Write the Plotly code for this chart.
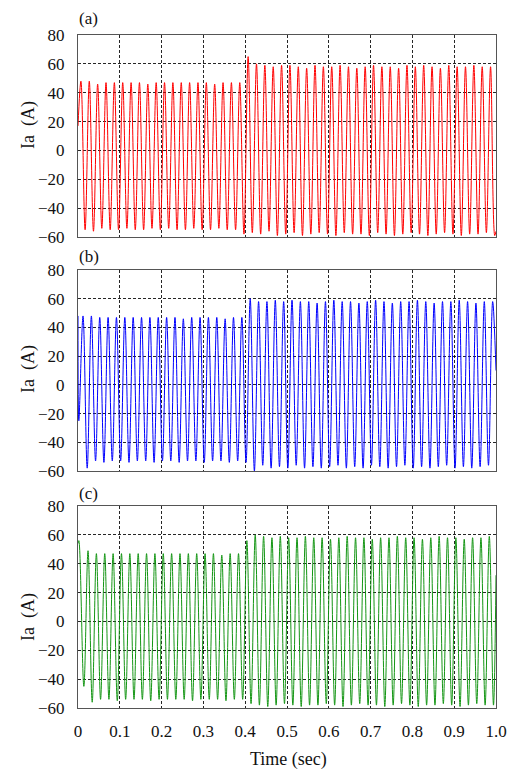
import numpy as np
import plotly.graph_objects as go

# ---------------- data ----------------
PERIOD = 0.02  # 50 Hz supply current

# Panel (a): peaks at 0.007 + 0.02k, troughs at 0.017 + 0.02k
start_a = (0.0, 17)
peaks_a = [48, 48, 46, 47, 47, 47, 47, 47, 46, 47, 47, 47, 47, 47, 47, 47, 46, 47, 47, 47,
           65, 60, 59, 58, 59, 59, 58, 57, 59, 58, 58, 59, 58, 57, 58, 59, 58, 58, 57, 59,
           58, 59, 58, 57, 59, 58, 58, 59, 58, 58]
troughs_a = [-55, -56, -54, -55, -55, -54, -55, -55, -54, -55, -54, -55, -55, -54, -55, -55, -54, -55, -55, -58,
             -57, -58, -56, -59, -58, -57, -59, -58, -57, -58, -59, -57, -58, -58, -59, -57, -58, -59, -58, -57,
             -58, -59, -58, -57, -58, -59, -58, -58, -57, -59]
end_a = (1.0, -56)

# Panel (b): troughs at 0.002 + 0.02k, peaks at 0.012 + 0.02k
start_b = (0.0, 48)
peaks_b = [48, 48, 47, 47, 47, 47, 47, 47, 47, 47, 47, 47, 46, 47, 47, 47, 47, 46, 47, 47,
           60, 58, 58, 59, 58, 59, 58, 58, 57, 58, 59, 58, 58, 57, 58, 59, 58, 57, 58, 58,
           59, 58, 57, 58, 58, 59, 58, 57, 58, 58]
troughs_b = [-25, -58, -53, -54, -53, -53, -54, -53, -53, -54, -53, -53, -54, -53, -53, -54, -53, -53, -54, -53,
             -54, -60, -56, -58, -57, -58, -56, -58, -57, -58, -57, -56, -58, -57, -58, -56, -57, -58, -57, -56,
             -58, -57, -58, -57, -56, -58, -57, -58, -57, -56]
end_b = (1.0, 10)

# Panel (c): first peak at 0.002, then peaks at 0.004 + 0.02k; troughs at 0.014 + 0.02k
start_c = (0.0, 54)
peaks_c = [56, 49, 47, 47, 47, 47, 47, 47, 47, 47, 47, 47, 47, 47, 47, 47, 47, 46, 47, 47,
           56, 60, 59, 58, 59, 58, 58, 59, 58, 58, 57, 58, 59, 58, 58, 57, 58, 58, 59, 58,
           58, 57, 58, 59, 58, 58, 57, 58, 58, 59]
troughs_c = [-45, -56, -54, -54, -55, -54, -54, -54, -55, -54, -54, -54, -54, -55, -54, -54, -54, -55, -54, -54,
             -57, -58, -59, -58, -57, -58, -59, -58, -58, -57, -58, -59, -58, -57, -58, -58, -59, -58, -57, -58,
             -59, -58, -58, -57, -58, -59, -58, -57, -58, -58]
end_c = (1.0, 32)

x_tickvals = [0, 0.1, 0.2, 0.3, 0.4, 0.5, 0.6, 0.7, 0.8, 0.9, 1.0]
x_ticktext = ["0", "0.1", "0.2", "0.3", "0.4", "0.5", "0.6", "0.7", "0.8", "0.9", "1.0"]
y_tickvals = [-60, -40, -20, 0, 20, 40, 60, 80]
panel_labels = ["(a)", "(b)", "(c)"]
y_title = "Ia\u00a0 (A)"
x_title = "Time (sec)"

# ---------------- build sample sequences ----------------
def sequence(start, peaks, peak_t, troughs, trough_t, end):
    t = np.concatenate([[start[0]], peak_t, trough_t, [end[0]]])
    v = np.concatenate([[start[1]], peaks, troughs, [end[1]]])
    order = np.argsort(t, kind="stable")
    t, v = t[order], v[order]
    keep = t <= 1.0
    return t[keep], v[keep]

k = np.arange(50)
ta, va = sequence(start_a, peaks_a, 0.007 + PERIOD * k, troughs_a, 0.017 + PERIOD * k, end_a)
pt_c = 0.004 + PERIOD * k
pt_c[0] = 0.002
tb, vb = sequence(start_b, peaks_b, 0.012 + PERIOD * k, troughs_b, 0.002 + PERIOD * k, end_b)
tc, vc = sequence(start_c, peaks_c, pt_c, troughs_c, 0.014 + PERIOD * k, end_c)

W, H = 510, 770
xdom = [78 / W, 496 / W]
panels = [  # (top px, bottom px)
    (35, 237),
    (270, 471),
    (506, 708),
]
colors = ["rgb(255,0,0)", "rgb(0,0,255)", "rgb(20,150,20)"]
series = [(ta, va), (tb, vb), (tc, vc)]

fig = go.Figure()
font_family = "Liberation Serif, Times New Roman, serif"

for i, ((t, v), col, (top, bot)) in enumerate(zip(series, colors, panels)):
    n = "" if i == 0 else str(i + 1)
    fig.add_trace(go.Scatter(x=t, y=v, mode="lines",
                             line=dict(color=col, width=1, shape="spline", smoothing=1),
                             xaxis="x" + n, yaxis="y" + n, showlegend=False,
                             hoverinfo="skip"))
    ydom = [1 - bot / H, 1 - top / H]
    grid = dict(showgrid=True, gridcolor="rgba(0,0,0,0.85)", gridwidth=1, griddash="3px,2px",
                showline=True, linecolor="#555", linewidth=1, mirror=True, automargin=False,
                zeroline=False, ticks="", tickfont=dict(family=font_family, size=17, color="#111"))
    fig.layout["xaxis" + n] = dict(domain=xdom, range=[0, 1.0], anchor="y" + n,
                                   tickvals=x_tickvals, ticktext=x_ticktext,
                                   showticklabels=(i == 2), ticklabelstandoff=8, **grid)
    fig.layout["yaxis" + n] = dict(domain=ydom, range=[-60, 80], anchor="x" + n,
                                   tickvals=y_tickvals, ticklabelstandoff=9, **grid)

ann = []
label_y = [18, 257, 493]
ytitle_y = [125, 369, 617]
for i in range(3):
    ann.append(dict(text=panel_labels[i], x=77 / W, y=1 - label_y[i] / H, xref="paper", yref="paper",
                    xanchor="left", yanchor="middle", showarrow=False,
                    font=dict(family=font_family, size=17, color="#111")))
    ann.append(dict(text=y_title, x=28 / W, y=1 - ytitle_y[i] / H, xref="paper", yref="paper",
                    xanchor="center", yanchor="middle", textangle=-90, showarrow=False,
                    font=dict(family=font_family, size=18, color="#111")))
ann.append(dict(text=x_title, x=288 / W, y=1 - 759 / H, xref="paper", yref="paper",
                xanchor="center", yanchor="middle", showarrow=False,
                font=dict(family=font_family, size=18, color="#111")))

fig.update_layout(width=W, height=H, autosize=False,
                  margin=dict(l=0, r=0, t=0, b=0),
                  paper_bgcolor="white", plot_bgcolor="white",
                  annotations=ann)

fig.write_html("out.html", config={"displayModeBar": False},
               post_script="document.body.style.margin='0';document.body.style.padding='0';")
